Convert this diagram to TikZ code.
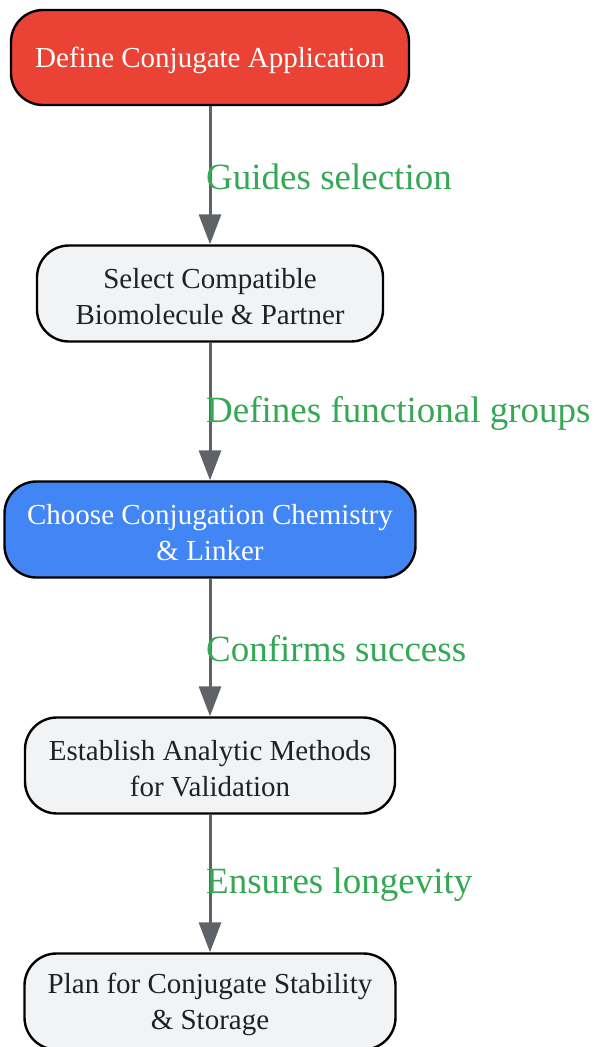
\documentclass[tikz,border=0pt]{standalone}
\usepackage{fontspec}
\setmainfont{Liberation Serif}
\usetikzlibrary{arrows.meta}
\definecolor{redfill}{HTML}{EA4335}
\definecolor{bluefill}{HTML}{4285F4}
\definecolor{greyfill}{HTML}{F1F3F5}
\definecolor{arrowgrey}{HTML}{5F6368}
\definecolor{labelgreen}{HTML}{34A853}
\definecolor{textdark}{HTML}{202124}
\tikzset{
  stepbox/.style={draw=black, line width=2.4pt, rounded corners=32pt, inner sep=0pt},
  steptext/.style={align=center, font=\fontsize{29}{36}\selectfont, inner sep=0pt, yshift=-3pt},
  flow/.style={draw=arrowgrey, line width=3pt, -{Triangle[length=30pt,width=22pt]}},
  lbl/.style={text=labelgreen, font=\fontsize{37}{42}\selectfont, anchor=west, inner sep=0pt}
}
\begin{document}
\begin{tikzpicture}[x=1pt,y=-1pt]
\useasboundingbox (0,0) rectangle (595,1047);
\node[stepbox, fill=redfill, minimum width=398pt, minimum height=95pt,
  label={[steptext, text=white]center:Define Conjugate Application}] (a) at (210,57.5) {};
\node[stepbox, fill=greyfill, minimum width=346pt, minimum height=96pt,
  label={[steptext, text=textdark]center:{Select Compatible\\Biomolecule \& Partner}}] (b) at (210,293.5) {};
\node[stepbox, fill=bluefill, minimum width=411pt, minimum height=96pt,
  label={[steptext, text=white]center:{Choose Conjugation Chemistry\\\& Linker}}] (c) at (210,529.5) {};
\node[stepbox, fill=greyfill, minimum width=370pt, minimum height=96pt,
  label={[steptext, text=textdark]center:{Establish Analytic Methods\\for Validation}}] (d) at (210,765.5) {};
\node[stepbox, fill=greyfill, minimum width=371pt, minimum height=96pt,
  label={[steptext, text=textdark]center:{Plan for Conjugate Stability\\\& Storage}}] (e) at (210,1001.5) {};
\draw[flow] (a) -- (b);
\draw[flow] (b) -- (c);
\draw[flow] (c) -- (d);
\draw[flow] (d) -- (e);
\node[lbl] (l1) at (206,177) {Guides selection};
\node[lbl] (l2) at (206,413) {Defines functional groups};
\node[lbl] (l3) at (206,649) {Confirms success};
\node[lbl] (l4) at (206,885) {Ensures longevity};
\end{tikzpicture}
\end{document}
